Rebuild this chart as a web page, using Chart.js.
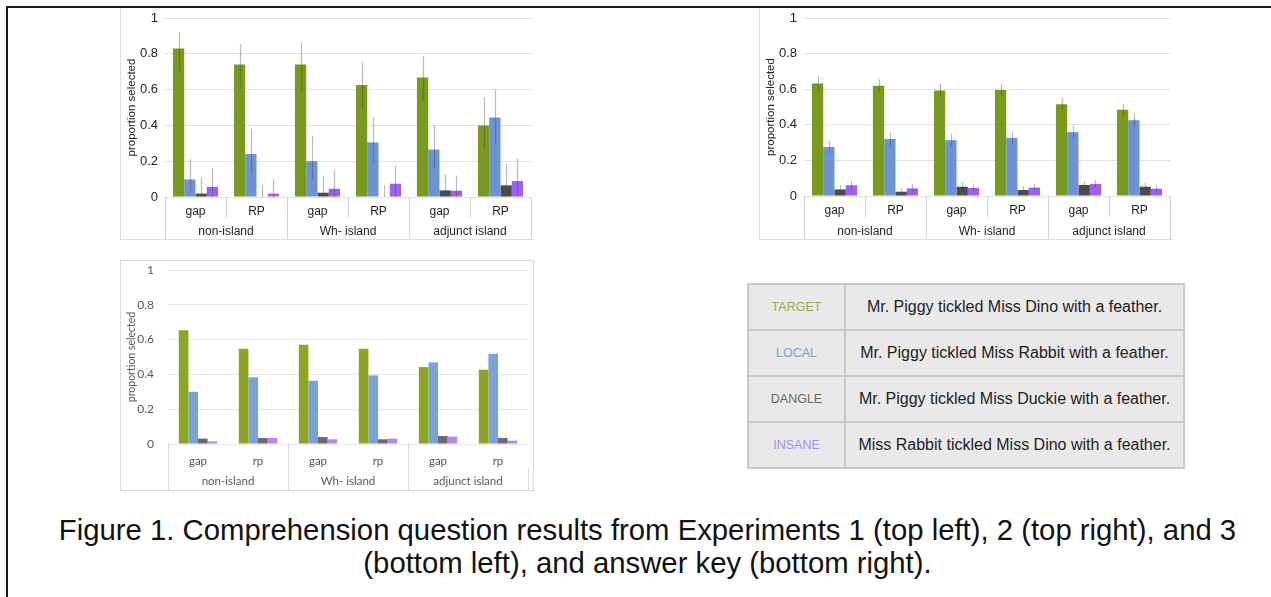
<!DOCTYPE html>
<html>
<head>
<meta charset="utf-8">
<script src="https://cdn.jsdelivr.net/npm/chart.js@4/dist/chart.umd.min.js"></script>
<style>
  body { margin: 0; background: #fff; width: 1271px; height: 597px; position: relative; overflow: hidden; }
  .topline { position: absolute; left: 6px; top: 6px; width: 1265px; height: 2px; background: #1a1a1a; }
  .leftline { position: absolute; left: 6px; top: 6px; width: 2px; height: 591px; background: #1a1a1a; }
  .panel { position: absolute; background: #fff; box-sizing: border-box; }
  .panel canvas { display: block; }
  #key {
    position: absolute; left: 747px; top: 283px; width: 438px; height: 185px;
    border-collapse: collapse; background: #e9e9e9; border: 2px solid #8a8a8a;
    font-family: "Liberation Sans", Arial, sans-serif;
  }
  #key td { border: 2px solid #c9c9c9; text-align: center; height: 44px; padding: 0; }
  #key td.lab { width: 95px; font-size: 12.5px; }
  #key td.txt { font-size: 16px; color: #1e1e1e; }
  #caption {
    position: absolute; left: 12px; top: 513px; width: 1271px; text-align: center;
    font-family: "Liberation Sans", Arial, sans-serif; font-size: 29.3px; line-height: 33px; color: #111;
  }
</style>
</head>
<body>
<div class="topline"></div>
<div class="leftline"></div>

<div class="panel" style="left:120px;top:8px;width:414px;height:232px;border-left:1px solid #ddd;border-bottom:1px solid #ddd">
  <canvas id="chart1" width="413" height="231"></canvas>
</div>
<div class="panel" style="left:759px;top:8px;width:414px;height:232px;border-left:1px solid #ddd;border-bottom:1px solid #ddd">
  <canvas id="chart2" width="413" height="231"></canvas>
</div>
<div class="panel" style="left:120px;top:260px;width:414px;height:231px;border:1px solid #d9d9d9">
  <canvas id="chart3" width="412" height="229"></canvas>
</div>

<table id="key">
  <tr><td class="lab" style="color:#97ab4f">TARGET</td><td class="txt">Mr. Piggy tickled Miss Dino with a feather.</td></tr>
  <tr><td class="lab" style="color:#7f9fd5">LOCAL</td><td class="txt">Mr. Piggy tickled Miss Rabbit with a feather.</td></tr>
  <tr><td class="lab" style="color:#686868">DANGLE</td><td class="txt">Mr. Piggy tickled Miss Duckie with a feather.</td></tr>
  <tr><td class="lab" style="color:#a98cf0">INSANE</td><td class="txt">Miss Rabbit tickled Miss Dino with a feather.</td></tr>
</table>

<div id="caption">Figure 1. Comprehension question results from Experiments 1 (top left), 2 (top right), and 3<br>(bottom left), and answer key (bottom right).</div>

<script>
/* ===== data ===== */

const categoriesUpper = ["gap", "RP", "gap", "RP", "gap", "RP"]
const categoriesLower = ["gap", "rp", "gap", "rp", "gap", "rp"]
const groups = ["non-island", "Wh- island", "adjunct island"]
const seriesNames = ["TARGET", "LOCAL", "DANGLE", "INSANE"]

// Experiment 1 (top left), error ranges as [low, high]
const exp1Target = [0.83, 0.74, 0.74, 0.626, 0.668, 0.40]
const exp1Local = [0.098, 0.24, 0.20, 0.305, 0.265, 0.444]
const exp1Dangle = [0.019, 0.0, 0.024, 0.0, 0.037, 0.065]
const exp1Insane = [0.057, 0.019, 0.046, 0.074, 0.035, 0.089]
const exp1TargetErr = [[0.70, 0.92], [0.607, 0.854], [0.593, 0.861], [0.487, 0.752], [0.533, 0.789], [0.261, 0.557]]
const exp1LocalErr = [[0.033, 0.213], [0.135, 0.381], [0.098, 0.339], [0.19, 0.444], [0.159, 0.40], [0.30, 0.60]]
const exp1DangleErr = [[0, 0.107], [0, 0.065], [0, 0.12], [0, 0.065], [0, 0.126], [0, 0.185]]
const exp1InsaneErr = [[0, 0.163], [0, 0.10], [0, 0.15], [0, 0.176], [0, 0.12], [0, 0.215]]

// Experiment 2 (top right), error as +/- half width
const exp2Target = [0.632, 0.62, 0.593, 0.596, 0.516, 0.484]
const exp2Local = [0.275, 0.32, 0.314, 0.327, 0.359, 0.426]
const exp2Dangle = [0.037, 0.024, 0.052, 0.034, 0.062, 0.052]
const exp2Insane = [0.06, 0.043, 0.045, 0.047, 0.067, 0.041]
const exp2TargetErr = [0.042, 0.035, 0.037, 0.035, 0.035, 0.035]
const exp2LocalErr = [0.035, 0.037, 0.033, 0.035, 0.035, 0.037]
const exp2DangleErr = [0.023, 0.02, 0.027, 0.02, 0.023, 0.023]
const exp2InsaneErr = [0.025, 0.022, 0.02, 0.02, 0.023, 0.02]

// Experiment 3 (bottom left), no error bars
const exp3Target = [0.654, 0.548, 0.571, 0.548, 0.442, 0.427]
const exp3Local = [0.30, 0.383, 0.363, 0.394, 0.469, 0.519]
const exp3Dangle = [0.031, 0.035, 0.04, 0.027, 0.046, 0.035]
const exp3Insane = [0.015, 0.035, 0.027, 0.031, 0.042, 0.019]

const colorsUpper = ["#789a1e", "#6c94d3", "#4b4b4b", "#9d61f2"]
const colorsLower = ["#8ca523", "#7ba2d6", "#6b6b6b", "#b386f4"]


/* ===== error bars ===== */

const errorBars = {
  id: "errorBars",
  afterDatasetsDraw(chart) {
    const ctx = chart.ctx
    const y = chart.scales.y
    chart.data.datasets.forEach((ds, i) => {
      if (!ds.errors) return
      chart.getDatasetMeta(i).data.forEach((bar, j) => {
        const lo = Math.max(0, ds.errors[j][0])
        const hi = ds.errors[j][1]
        const x = Math.round(bar.x) + 0.5
        ctx.save()
        ctx.strokeStyle = "rgba(70,70,70,0.38)"
        ctx.lineWidth = 1.2
        ctx.beginPath()
        ctx.moveTo(x, y.getPixelForValue(hi))
        ctx.lineTo(x, y.getPixelForValue(lo))
        ctx.stroke()
        ctx.restore()
      })
    })
  }
}


/* ===== chart builder ===== */

function buildChart(id, o) {

  const datasets = o.series.map((values, i) => ({
    label: seriesNames[i],
    data: values,
    backgroundColor: o.colors[i],
    errors: o.errors ? o.errors[i] : null,
    categoryPercentage: o.catPct,
    barPercentage: 1.0
  }))

  const font = { family: o.font, size: o.fontSize }

  return new Chart(document.getElementById(id), {
    type: "bar",
    data: { labels: o.labels, datasets: datasets },
    plugins: [errorBars],
    options: {
      responsive: false,
      animation: false,
      events: [],
      layout: { padding: { top: o.padTop, right: o.padRight, left: 0, bottom: 0 } },
      plugins: { legend: { display: false }, tooltip: { enabled: false } },
      scales: {
        y: {
          min: 0,
          max: 1,
          ticks: {
            stepSize: 0.2,
            font: { family: o.font, size: o.yFontSize },
            color: o.textColor,
            padding: 0,
            callback: (v) => String(+v.toFixed(1))
          },
          grid: { color: o.gridColor, drawTicks: true, tickLength: o.yGap, tickColor: "rgba(0,0,0,0)", lineWidth: 1 },
          border: { display: false },
          title: { display: true, text: "proportion selected", font: { family: o.font, size: o.titleSize }, color: o.textColor, padding: { top: 4, bottom: 0 } },
          afterFit(s) { s.width = o.yWidth }
        },
        x: {
          offset: true,
          grid: {
            offset: true,
            drawOnChartArea: false,
            tickLength: o.xHeight,
            color: (c) => (o.allSeparators || c.index % 2 === 0) ? o.sepColor : "rgba(0,0,0,0)"
          },
          border: { display: false },
          ticks: { font: font, color: o.textColor, padding: o.xPad, maxRotation: 0 },
          afterFit(s) { s.height = o.xHeight }
        },
        x2: {
          type: "category",
          labels: groups,
          position: "bottom",
          offset: true,
          weight: 1,
          grid: { offset: true, drawOnChartArea: false, tickLength: o.x2Height, color: o.sepColor },
          border: { display: false },
          ticks: { font: font, color: o.textColor, padding: o.x2Pad, maxRotation: 0 },
          afterFit(s) { s.height = o.x2Height }
        }
      }
    }
  })
}

const pm = (vals, errs) => vals.map((v, i) => [v - errs[i], v + errs[i]])


/* ===== charts ===== */

buildChart("chart1", {
  labels: categoriesUpper,
  series: [exp1Target, exp1Local, exp1Dangle, exp1Insane],
  errors: [exp1TargetErr, exp1LocalErr, exp1DangleErr, exp1InsaneErr],
  colors: colorsUpper,
  catPct: 0.74,
  font: "Liberation Sans",
  fontSize: 12,
  yFontSize: 13,
  titleSize: 11.5,
  textColor: "#1e1e1e",
  gridColor: "#e2e2e2",
  sepColor: "#d4d4d4",
  allSeparators: true,
  yWidth: 44,
  yGap: 7,
  padTop: 10,
  padRight: 3,
  xHeight: 21,
  xPad: -14,
  x2Height: 21,
  x2Pad: -15
})

buildChart("chart2", {
  labels: categoriesUpper,
  series: [exp2Target, exp2Local, exp2Dangle, exp2Insane],
  errors: [
    pm(exp2Target, exp2TargetErr),
    pm(exp2Local, exp2LocalErr),
    pm(exp2Dangle, exp2DangleErr),
    pm(exp2Insane, exp2InsaneErr)
  ],
  colors: colorsUpper,
  catPct: 0.74,
  font: "Liberation Sans",
  fontSize: 12,
  yFontSize: 13,
  titleSize: 11.5,
  textColor: "#1e1e1e",
  gridColor: "#e2e2e2",
  sepColor: "#d4d4d4",
  allSeparators: true,
  yWidth: 44,
  yGap: 7,
  padTop: 10,
  padRight: 3,
  xHeight: 21,
  xPad: -14,
  x2Height: 22,
  x2Pad: -15
})

buildChart("chart3", {
  labels: categoriesLower,
  series: [exp3Target, exp3Local, exp3Dangle, exp3Insane],
  errors: null,
  colors: colorsLower,
  catPct: 0.64,
  font: "Lato",
  fontSize: 11.5,
  yFontSize: 12,
  titleSize: 10.5,
  textColor: "#595959",
  gridColor: "#e6e6e6",
  sepColor: "#d9d9d9",
  allSeparators: false,
  yWidth: 47,
  yGap: 14,
  padTop: 9,
  padRight: 5,
  xHeight: 24,
  xPad: -14,
  x2Height: 22,
  x2Pad: -16
})
</script>
</body>
</html>
